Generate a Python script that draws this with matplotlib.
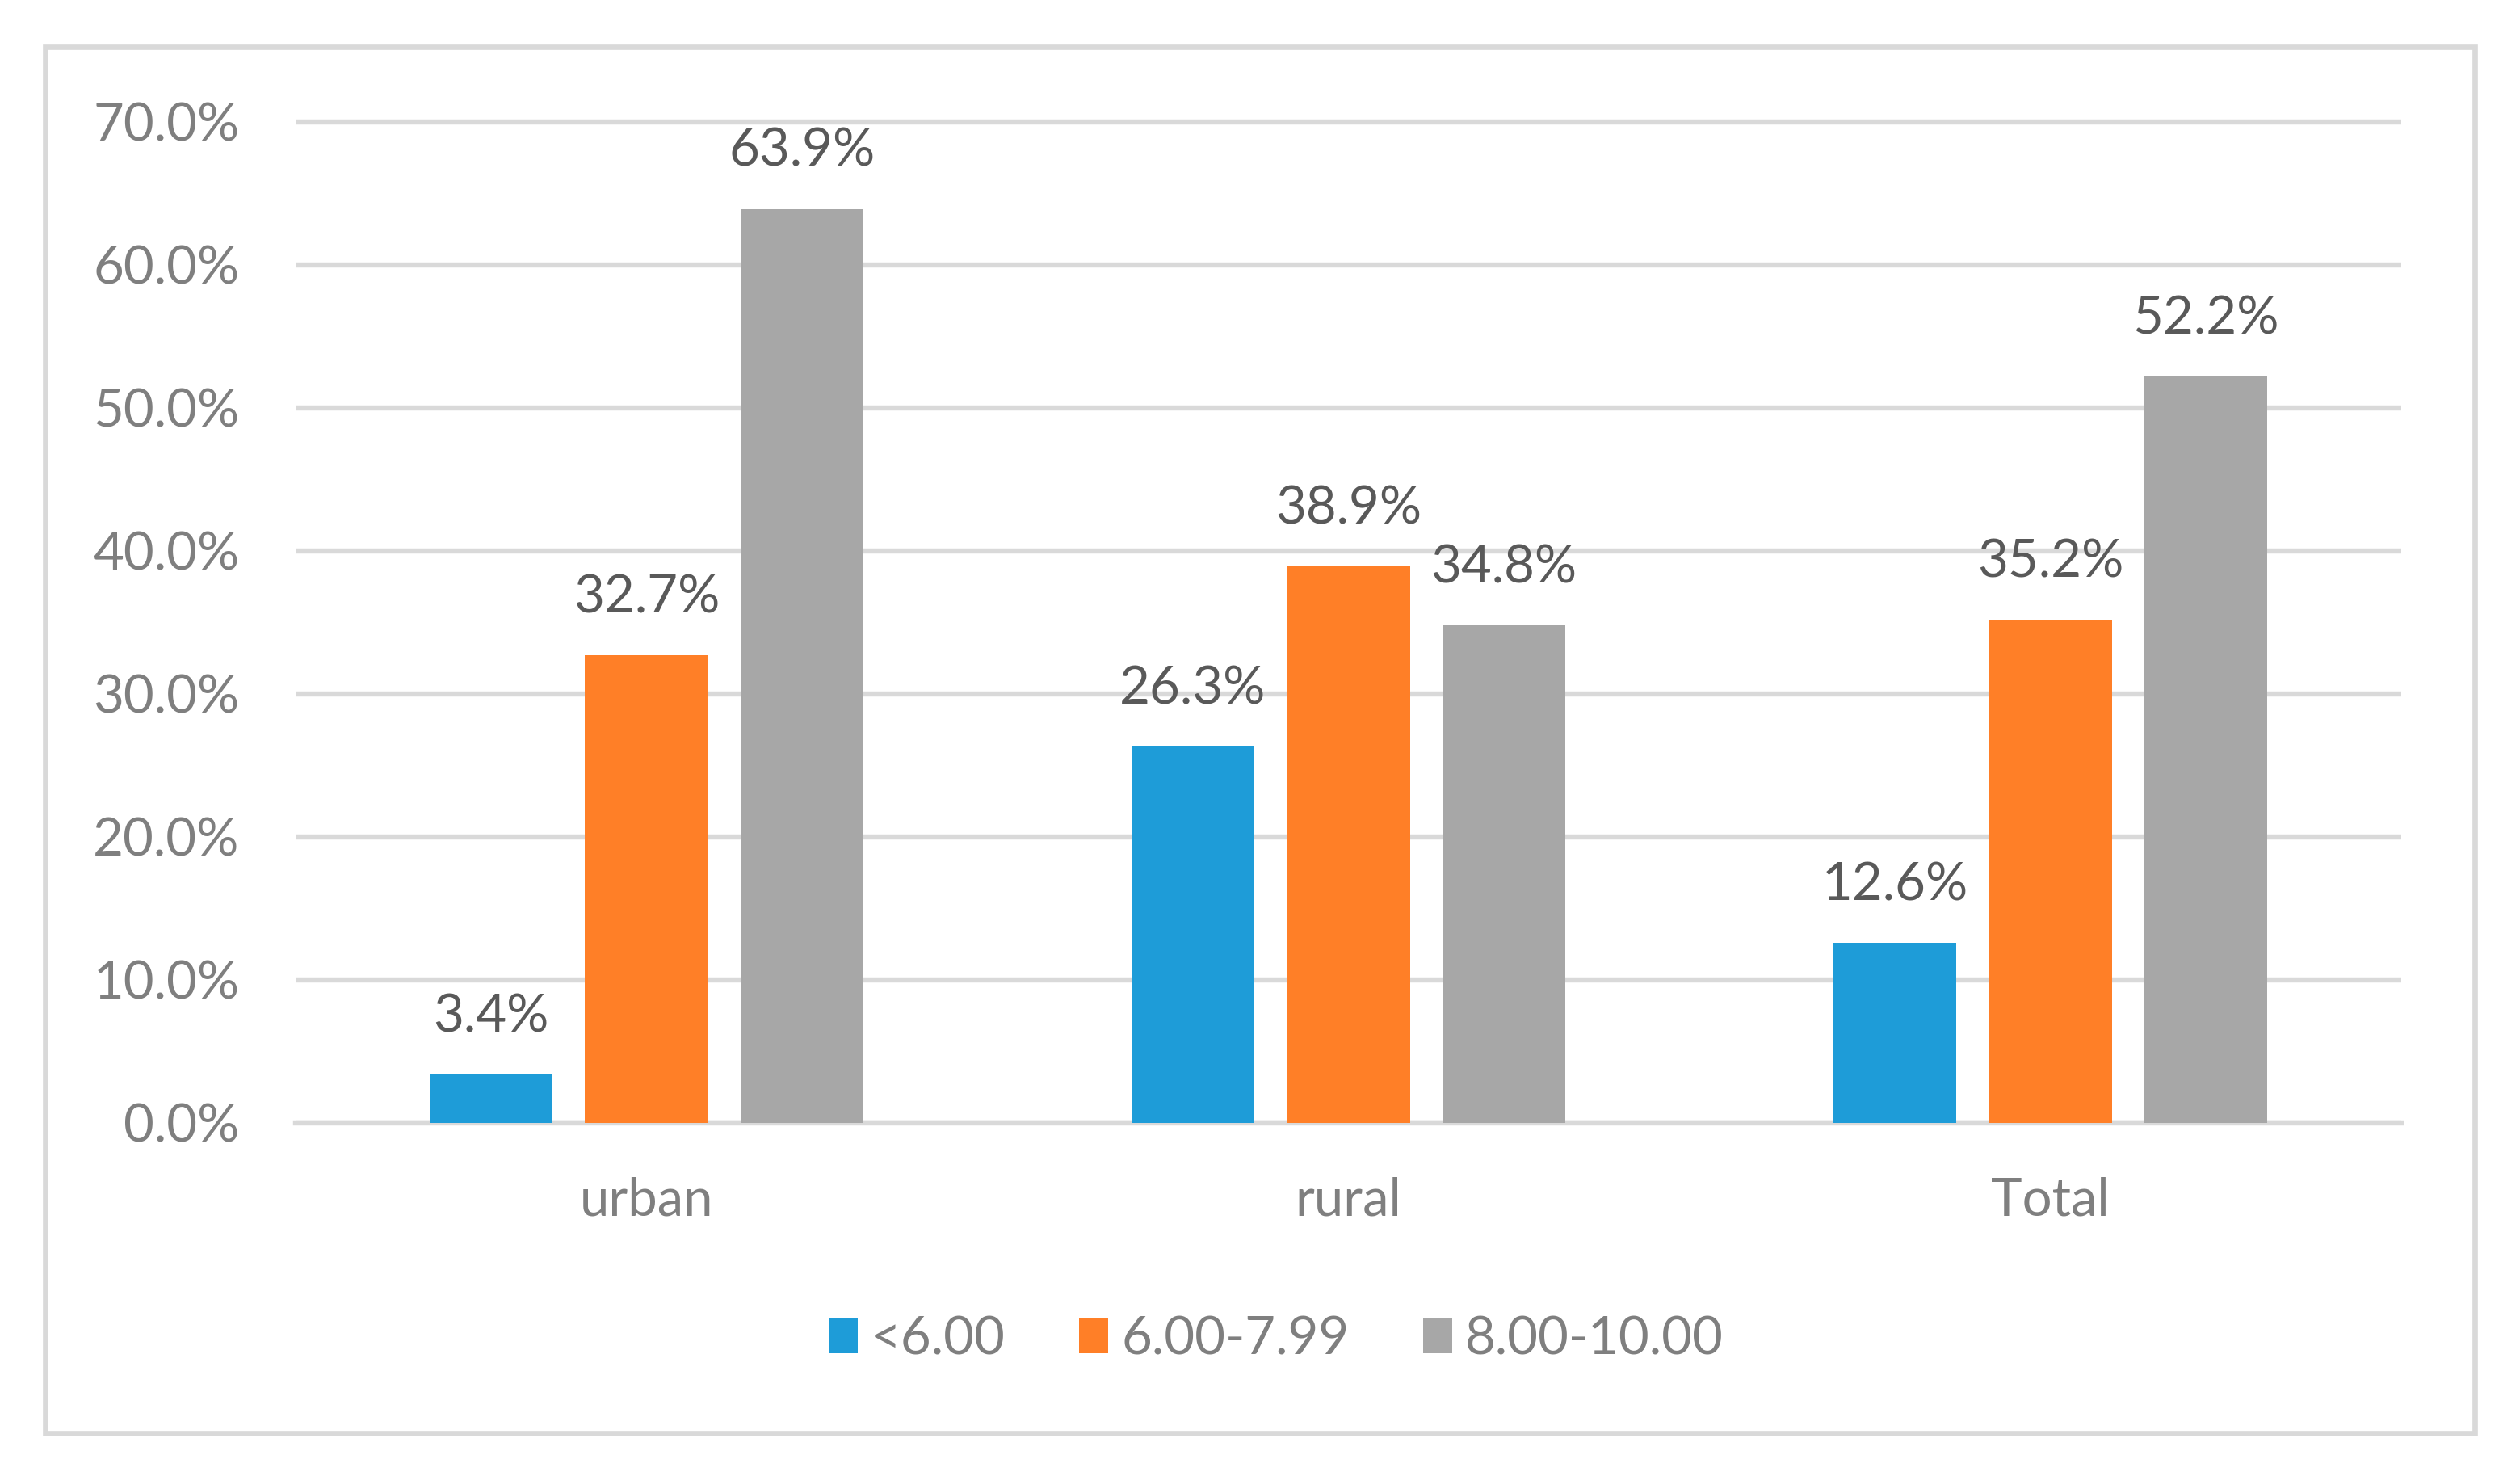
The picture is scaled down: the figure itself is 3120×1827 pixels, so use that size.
import numpy as np
import matplotlib
matplotlib.use("Agg")
import matplotlib.pyplot as plt
from matplotlib.patches import Rectangle
from matplotlib.ticker import FuncFormatter

# data
categories = ['urban', 'rural', 'Total']
series_names = ['<6.00', '6.00-7.99', '8.00-10.00']
low = [0.034, 0.263, 0.126]
mid = [0.327, 0.389, 0.352]
high = [0.639, 0.348, 0.522]
colors = ['#1E9CD8', '#FF7F27', '#A7A7A7']

plt.rcParams['font.family'] = ['Lato', 'DejaVu Sans']

fig = plt.figure(figsize=(15.6, 9.135), dpi=200)
# outer frame of the chart
fig.patches.append(Rectangle((56 / 3120, 1 - 1774 / 1827), (3064 - 56) / 3120,
                             (1774 - 58) / 1827, transform=fig.transFigure,
                             fill=False, edgecolor='#D9D9D9', linewidth=2.4))

ax = fig.add_axes([366 / 3120, 0.2392, (2973 - 366) / 3120, 0.9370 - 0.2392])
x = np.arange(len(categories))
width = 0.175
step = 0.2215
for i, (vals, name) in enumerate(zip([low, mid, high], series_names)):
    bars = ax.bar(x + (i - 1) * step, vals, width, color=colors[i], label=name,
                  zorder=3)
    for b, v in zip(bars, vals):
        ax.annotate('{:.1f}%'.format(v * 100),
                    (b.get_x() + b.get_width() / 2, v),
                    xytext=(0, 15), textcoords='offset points',
                    ha='center', va='bottom', fontsize=23.5, color='#595959')

ax.set_xlim(-0.5, 2.5)
ax.set_ylim(0, 0.72)
ax.set_yticks(np.arange(0, 0.71, 0.1))
ax.yaxis.set_major_formatter(FuncFormatter(lambda v, p: '{:.1f}%'.format(v * 100)))
ax.set_xticks(x)
ax.set_xticklabels(categories)
ax.tick_params(axis='y', length=0, pad=25, labelsize=23.5, labelcolor='#7F7F7F')
ax.tick_params(axis='x', length=0, pad=24, labelsize=23.5, labelcolor='#7F7F7F')
ax.yaxis.grid(True, color='#D9D9D9', linewidth=2.3, zorder=0)
ax.set_axisbelow(True)
for s in ['top', 'right', 'left']:
    ax.spines[s].set_visible(False)
ax.spines['bottom'].set_color('#D9D9D9')
ax.spines['bottom'].set_linewidth(2.3)

leg = ax.legend(loc='center', ncol=3, frameon=False, fontsize=23.5,
                handlelength=0.55, handleheight=0.63, handletextpad=0.25,
                columnspacing=1.4, labelcolor='#7F7F7F',
                bbox_to_anchor=(1580 / 3120, 1 - 1658 / 1827),
                bbox_transform=fig.transFigure)

fig.savefig('out.png', dpi=200, facecolor='white')
